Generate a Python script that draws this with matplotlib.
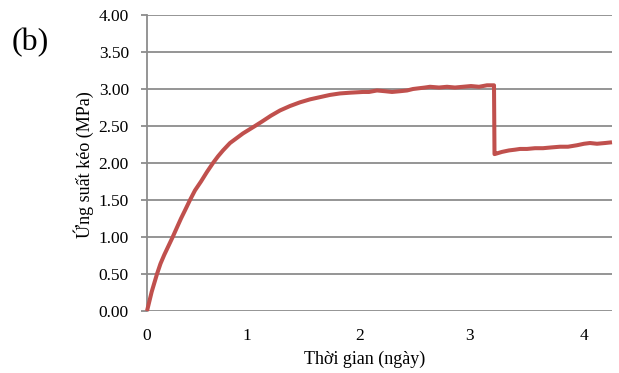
import matplotlib
matplotlib.use("Agg")
import matplotlib.pyplot as plt

plt.rcParams['font.family'] = ['Liberation Serif', 'DejaVu Serif']

# Position along the time axis (axis units) and tensile stress (MPa)
time_pos = [0.00, 0.047, 0.10, 0.135, 0.173, 0.215, 0.257, 0.30, 0.34, 0.38,
            0.43, 0.48, 0.54, 0.60, 0.66, 0.71, 0.76, 0.83, 0.90, 0.96, 1.02, 1.08,
            1.15, 1.24, 1.33, 1.43, 1.53, 1.63, 1.73, 1.83, 1.93, 2.03, 2.16, 2.22,
            2.30, 2.38, 2.45, 2.53, 2.60, 2.66, 2.72, 2.78, 2.83, 2.92, 3.00, 3.08,
            3.16, 3.24, 3.32, 3.40, 3.47, 3.475, 3.50, 3.55, 3.62, 3.68, 3.73, 3.80,
            3.88, 3.96, 4.04, 4.13, 4.21, 4.30, 4.37, 4.43, 4.50, 4.58, 4.65]
stress = [0.00, 0.26, 0.50, 0.64, 0.76, 0.88, 1.00, 1.13, 1.25, 1.36,
          1.50, 1.63, 1.75, 1.88, 2.00, 2.09, 2.17, 2.27, 2.34, 2.40, 2.45, 2.50,
          2.56, 2.64, 2.71, 2.77, 2.82, 2.86, 2.89, 2.92, 2.94, 2.95, 2.96, 2.96,
          2.98, 2.97, 2.96, 2.97, 2.98, 3.00, 3.01, 3.02, 3.03, 3.02, 3.03, 3.02,
          3.03, 3.04, 3.03, 3.05, 3.05, 2.12, 2.13, 2.15, 2.17, 2.18, 2.19, 2.19,
          2.20, 2.20, 2.21, 2.22, 2.22, 2.24, 2.26, 2.27, 2.26, 2.27, 2.28]

x_tick_pos = [0.0, 1.0, 2.13, 3.22, 4.37]
x_tick_labels = ['0', '1', '2', '3', '4']
y_ticks = [0.0, 0.5, 1.0, 1.5, 2.0, 2.5, 3.0, 3.5, 4.0]

fig = plt.figure(figsize=(6.19, 3.73), dpi=100)
ax = fig.add_axes([147 / 619, 62 / 373, 465 / 619, 296 / 373])

grid_color = '#8c8c8c'
for yv in y_ticks:
    ax.axhline(yv, color=grid_color, lw=1.3, zorder=1)

ax.plot(time_pos, stress, color='#c0504d', lw=2.9, solid_joinstyle='round',
        solid_capstyle='butt', zorder=3, clip_on=False)

ax.set_xlim(0, 4.65)
ax.set_ylim(0, 4.0)
ax.set_yticks(y_ticks)
ax.set_yticklabels([f'{v:.2f}' for v in y_ticks], fontsize=12.5)
ax.set_xticks(x_tick_pos)
ax.set_xticklabels(x_tick_labels, fontsize=12.5)

for side in ['top', 'right', 'bottom']:
    ax.spines[side].set_visible(False)
ax.spines['left'].set_color(grid_color)
ax.spines['left'].set_linewidth(1.3)
ax.tick_params(axis='y', length=4, width=1.3, color=grid_color, pad=9)
ax.tick_params(axis='x', length=0, pad=12)

ax.set_xlabel('Thời gian (ngày)', fontsize=13)
ax.xaxis.set_label_coords((365 - 147) / 465, -(359 - 311) / 296)
ax.xaxis.label.set_va('center')
ax.set_ylabel('Ứng suất kéo (MPa)', fontsize=13)
ax.yaxis.set_label_coords(-(147 - 84) / 465, (311 - 165) / 296)
ax.yaxis.label.set_va('center')

fig.text(12 / 619, 1 - 43 / 373, '(b)', fontsize=23, va='center', ha='left')

fig.savefig('out.png', dpi=100)
